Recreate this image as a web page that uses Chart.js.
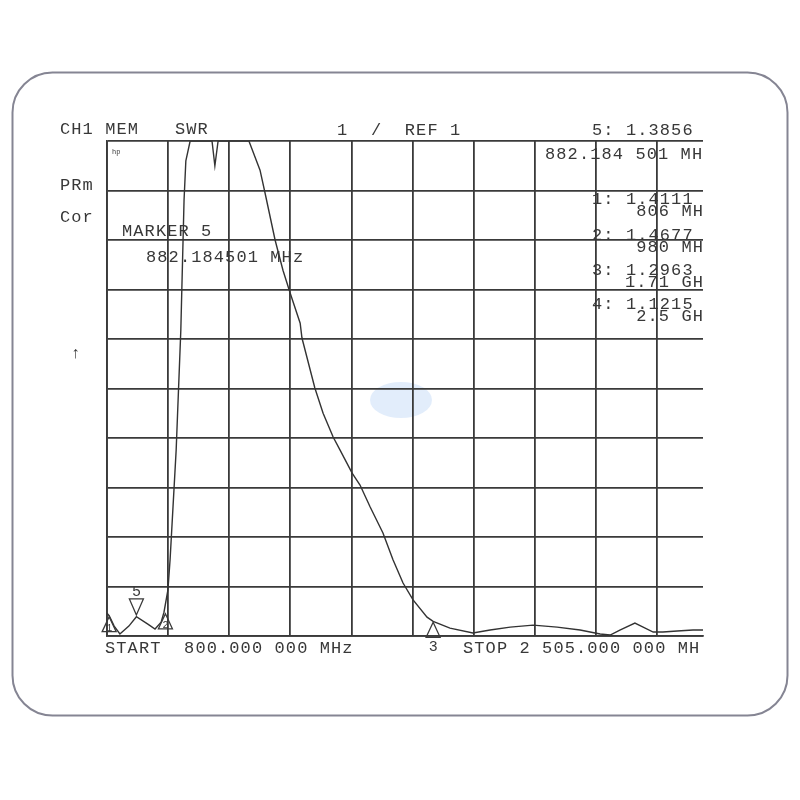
<!DOCTYPE html>
<html>
<head>
<meta charset="utf-8">
<script src="https://cdn.jsdelivr.net/npm/chart.js@4/dist/chart.umd.min.js"></script>
<style>
  html, body { margin: 0; padding: 0; background: #ffffff; }
  #wrap { position: relative; width: 800px; height: 800px; }
</style>
</head>
<body>
<div id="wrap"><canvas id="c" width="800" height="800"></canvas></div>
<script>
// ---- data ----
const freqMHz = [800, 806, 820, 836, 861, 882, 914, 934, 951, 959, 970, 976, 993, 1006, 1015, 1020, 1032,
  1093, 1101, 1110, 1196, 1227, 1241, 1269, 1291, 1311, 1339, 1344, 1380, 1403, 1431, 1450, 1484, 1506,
  1534, 1570, 1598, 1626, 1654, 1693, 1710, 1757, 1821, 1869, 1925, 1989, 2056, 2120, 2176, 2204, 2231,
  2273, 2296, 2324, 2351, 2391, 2435, 2460, 2500, 2505];
const swrValues = [1.46, 1.41, 1.20, 1.04, 1.20, 1.39, 1.24, 1.14, 1.28, 1.48, 1.93, 2.54, 4.76, 7.18, 9.81, 10.6, 11.0,
  11.0, 10.5, 11.0, 11.0, 10.41, 9.95, 9.0, 8.39, 7.93, 7.32, 7.02, 6.01, 5.5, 5.02, 4.76, 4.29, 4.05,
  3.61, 3.08, 2.54, 2.07, 1.73, 1.38, 1.296, 1.16, 1.06, 1.12, 1.18, 1.22, 1.18, 1.12, 1.04, 1.02, 1.12,
  1.26, 1.18, 1.08, 1.08, 1.10, 1.12, 1.12, 1.1215, 1.12];
// vertical graticule (170.5 MHz / div from 800 MHz start)
const xGridMHz = [800, 970.5, 1141, 1311.5, 1482, 1652.5, 1823, 1993.5, 2164, 2334.5];
const xVisibleMaxMHz = 2463;
const yMin = 1, yMax = 11, yStep = 1;
// markers: number, frequency, SWR, pointing
const markerNums = ['1', '2', '3', '5'];
const markerFreq = [806, 963, 1710, 882];
const markerSwr = [1.4111, 1.4677, 1.2963, 1.3856];
const markerDown = [false, false, false, true];

const FONT = '"Liberation Mono", "DejaVu Sans Mono", monospace';
const INK = '#383838';

function txt(ctx, s, x, y, opts) {
  opts = opts || {};
  ctx.save();
  ctx.font = (opts.size || 17) + 'px ' + FONT;
  try { ctx.letterSpacing = (opts.ls !== undefined ? opts.ls : 1.1) + 'px'; } catch (e) {}
  ctx.fillStyle = opts.color || INK;
  ctx.textBaseline = 'alphabetic';
  ctx.textAlign = opts.align || 'left';
  ctx.fillText(s, x, y);
  ctx.restore();
}

const framePlugin = {
  id: 'frame',
  beforeDraw(chart) {
    const ctx = chart.ctx;
    ctx.save();
    ctx.fillStyle = '#ffffff';
    ctx.fillRect(0, 0, 800, 800);
    ctx.beginPath();
    ctx.roundRect(12.5, 72.5, 775, 643, 40);
    ctx.strokeStyle = '#858593';
    ctx.lineWidth = 2;
    ctx.stroke();
    // faint watermark blob
    ctx.beginPath();
    ctx.ellipse(401, 400, 31, 18, 0, 0, Math.PI * 2);
    ctx.fillStyle = 'rgba(214,230,250,0.7)';
    ctx.fill();
    ctx.restore();
  }
};

const annoPlugin = {
  id: 'anno',
  afterDatasetsDraw(chart) {
    const ctx = chart.ctx;
    const xs = chart.scales.x, ys = chart.scales.y;
    // header / side texts
    txt(ctx, 'CH1 MEM', 60, 134);
    txt(ctx, 'SWR', 175, 134);
    txt(ctx, '1  /  REF 1', 337, 135);
    txt(ctx, '5: 1.3856', 592, 135);
    txt(ctx, '882.184 501 MH', 545, 159);
    txt(ctx, 'PRm', 60, 190);
    txt(ctx, 'Cor', 60, 222);
    txt(ctx, '\u2191', 71, 358, {size: 16, ls: 0});
    txt(ctx, 'hp', 112, 154, {size: 7, ls: 0});
    txt(ctx, 'MARKER 5', 122, 236);
    txt(ctx, '882.184501 MHz', 146, 262);
    // marker table
    txt(ctx, '1: 1.4111', 592, 204);
    txt(ctx, '806 MH', 704, 216, {align: 'right'});
    txt(ctx, '2: 1.4677', 592, 240);
    txt(ctx, '980 MH', 704, 252, {align: 'right'});
    txt(ctx, '3: 1.2963', 592, 275);
    txt(ctx, '1.71 GH', 704, 287, {align: 'right'});
    txt(ctx, '4: 1.1215', 592, 309);
    txt(ctx, '2.5 GH', 704, 321, {align: 'right'});
    // footer
    txt(ctx, 'START  800.000 000 MHz', 105, 653);
    txt(ctx, 'STOP 2 505.000 000 MH', 463, 653);
    // marker triangles
    ctx.save();
    ctx.strokeStyle = '#3a3a3a';
    ctx.lineWidth = 1.3;
    for (let i = 0; i < markerFreq.length; i++) {
      const px = xs.getPixelForValue(markerFreq[i]);
      const py = ys.getPixelForValue(markerSwr[i]);
      ctx.beginPath();
      if (markerDown[i]) {
        ctx.moveTo(px, py - 2);
        ctx.lineTo(px - 7, py - 18);
        ctx.lineTo(px + 7, py - 18);
      } else {
        ctx.moveTo(px, py + 1);
        ctx.lineTo(px - 7, py + 16);
        ctx.lineTo(px + 7, py + 16);
      }
      ctx.closePath();
      ctx.stroke();
      if (markerDown[i]) {
        txt(ctx, markerNums[i], px, py - 21, {size: 15, ls: 0, align: 'center'});
      } else if (markerNums[i] === '3') {
        txt(ctx, markerNums[i], px, py + 30, {size: 15, ls: 0, align: 'center'});
      } else {
        txt(ctx, markerNums[i], px, py + 15, {size: 10, ls: 0, align: 'center'});
      }
    }
    ctx.restore();
  }
};

const gridStyle = { color: '#3a3a3a', lineWidth: 1.8, drawTicks: false };

new Chart(document.getElementById('c'), {
  type: 'line',
  data: {
    datasets: [{
      data: freqMHz.map((f, i) => ({ x: f, y: swrValues[i] })),
      borderColor: '#333333',
      borderWidth: 1.4,
      pointRadius: 0,
      tension: 0,
      fill: false
    }]
  },
  options: {
    responsive: false,
    animation: false,
    devicePixelRatio: 1,
    layout: { padding: { left: 107, top: 141, right: 97, bottom: 164 } },
    plugins: { legend: { display: false }, tooltip: { enabled: false } },
    scales: {
      x: {
        type: 'linear',
        min: xGridMHz[0],
        max: xVisibleMaxMHz,
        afterBuildTicks(axis) { axis.ticks = xGridMHz.map(v => ({ value: v })); },
        ticks: { display: false },
        grid: gridStyle,
        border: { display: true, color: '#3a3a3a', width: 1.8 }
      },
      y: {
        type: 'linear',
        min: yMin,
        max: yMax,
        ticks: { display: false, stepSize: yStep },
        grid: gridStyle,
        border: { display: true, color: '#3a3a3a', width: 1.8 }
      }
    }
  },
  plugins: [framePlugin, annoPlugin]
});
</script>
</body>
</html>
